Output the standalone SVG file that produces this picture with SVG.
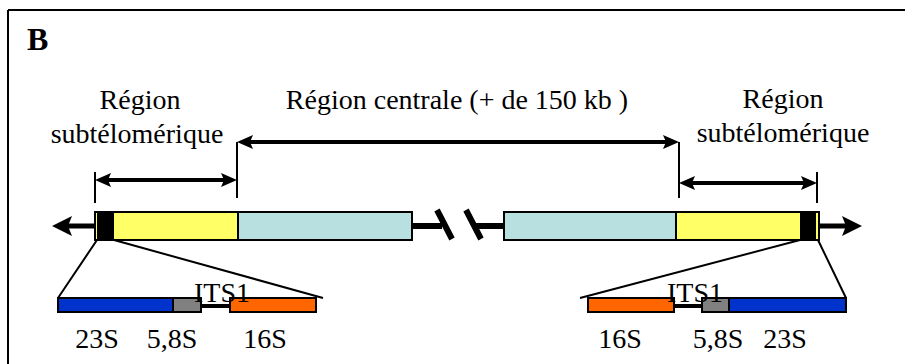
<svg xmlns="http://www.w3.org/2000/svg" width="905" height="364" viewBox="0 0 905 364">
<defs>
<style>
.t{font-family:"Liberation Serif","Times New Roman",serif;font-size:28px;fill:#000}
.b{font-family:"Liberation Serif","Times New Roman",serif;font-size:32px;font-weight:bold;fill:#000}
.thin{stroke:#000;stroke-width:2;fill:none}
.arr{stroke:#000;stroke-width:4;fill:none;marker-start:url(#ah);marker-end:url(#ah)}
.box{stroke:#000;stroke-width:2}
.yel{fill:#FFFF66}
.cy{fill:#B8E0E0}
.blk{fill:#000}
.blue{fill:#0033CC}
.gray{fill:#808080}
.orng{fill:#FF6600}
</style>
<marker id="ah" viewBox="0 0 16 14" refX="8" refY="7" markerWidth="16" markerHeight="14" markerUnits="userSpaceOnUse" orient="auto-start-reverse">
<path d="M0,0 L16,7 L0,14 L3,7 z" fill="#000"/>
</marker>
<marker id="big" viewBox="0 0 20 20" refX="6" refY="10" markerWidth="20" markerHeight="20" markerUnits="userSpaceOnUse" orient="auto">
<path d="M0,0 L20,10 L0,20 L4,10 z" fill="#000"/>
</marker>
</defs>
<g id="frame">
<path class="thin" d="M8,10 H905 M8,10 V364"/>
<text class="b" x="27" y="50">B</text>
</g>
<g id="labels">
<text class="t" x="140" y="109" text-anchor="middle">Région</text>
<text class="t" x="137" y="143" text-anchor="middle">subtélomérique</text>
<text class="t" x="457" y="109" text-anchor="middle">Région centrale (+ de 150 kb )</text>
<text class="t" x="783" y="108" text-anchor="middle">Région</text>
<text class="t" x="783" y="142" text-anchor="middle">subtélomérique</text>
</g>
<g id="connectors">
<path class="thin" d="M237,142 V198 M679,142 V198 M95,172 V203 M817,172 V203"/>
<line class="arr" x1="245" y1="142" x2="671" y2="142"/>
<line class="arr" x1="103" y1="180" x2="229" y2="180"/>
<line class="arr" x1="687" y1="183" x2="809" y2="183"/>
<line stroke="#000" stroke-width="5" x1="95" y1="226" x2="66" y2="226" marker-end="url(#big)"/>
<line stroke="#000" stroke-width="5" x1="819" y1="226" x2="848" y2="226" marker-end="url(#big)"/>
<path stroke="#000" stroke-width="6" fill="none" d="M412,226 H442 M476,226 H504"/>
<path stroke="#000" stroke-width="6" fill="none" d="M437,210 L452,239 M466,210 L481,239"/>
<path class="thin" d="M97,240 L58,298 M114,240 L323,298 M800,240 L580,298 M818,240 L846,298"/>
</g>
<g id="left-chromosome">
<rect class="box yel" x="95" y="212" width="143" height="28"/>
<rect class="blk" x="97" y="213" width="17" height="26"/>
<rect class="box cy" x="238" y="212" width="174" height="28"/>
</g>
<g id="right-chromosome">
<rect class="box cy" x="504" y="212" width="172" height="28"/>
<rect class="box yel" x="676" y="212" width="143" height="28"/>
<rect class="blk" x="800" y="213" width="16" height="26"/>
</g>
<g id="left-rrna">
<line stroke="#000" stroke-width="4" x1="201" y1="306" x2="230" y2="306"/>
<rect class="box blue" x="58" y="298" width="115" height="14"/>
<rect class="box gray" x="173" y="298" width="28" height="14"/>
<rect class="box orng" x="230" y="298" width="86" height="14"/>
<text class="t" x="222" y="302" text-anchor="middle">ITS1</text>
<text class="t" x="97" y="348" text-anchor="middle">23S</text>
<text class="t" x="172" y="348" text-anchor="middle">5,8S</text>
<text class="t" x="265" y="348" text-anchor="middle">16S</text>
</g>
<g id="right-rrna">
<line stroke="#000" stroke-width="4" x1="674" y1="306" x2="702" y2="306"/>
<rect class="box orng" x="588" y="298" width="86" height="14"/>
<rect class="box gray" x="702" y="298" width="27" height="14"/>
<rect class="box blue" x="729" y="298" width="117" height="14"/>
<text class="t" x="695" y="302" text-anchor="middle">ITS1</text>
<text class="t" x="620" y="348" text-anchor="middle">16S</text>
<text class="t" x="718" y="348" text-anchor="middle">5,8S</text>
<text class="t" x="785" y="348" text-anchor="middle">23S</text>
</g>
</svg>
